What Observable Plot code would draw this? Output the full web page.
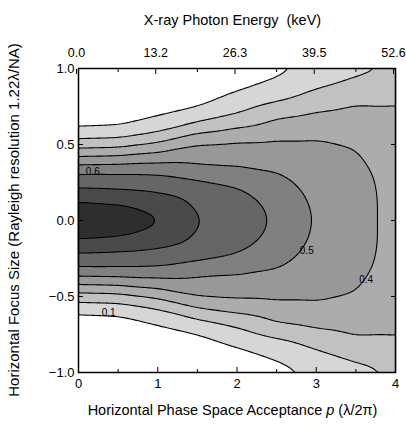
<!DOCTYPE html>
<html>
<head>
<meta charset="utf-8">
<script src="https://cdn.jsdelivr.net/npm/d3@7"></script>
<script src="https://cdn.jsdelivr.net/npm/@observablehq/plot@0.6"></script>
<style>
  html, body { margin: 0; padding: 0; background: white; }
</style>
</head>
<body>
<div id="chart"></div>
<script>
// Acceptance p (λ/2π) sample columns
const xs = [0, 0.5, 1, 1.5, 2, 2.5, 3, 3.5, 4];
// Focus size sample rows (top to bottom)
const ys = [1.0, 0.9, 0.8, 0.7, 0.6, 0.5, 0.4, 0.3, 0.2, 0.1, 0.0,
            -0.1, -0.2, -0.3, -0.4, -0.5, -0.6, -0.7, -0.8, -0.9, -1.0];
// Relative intensity, one row per ys entry, one column per xs entry
const grid = [
  [0.00, 0.00, 0.00, 0.01, 0.03, 0.07, 0.12, 0.17, 0.21],
  [0.00, 0.00, 0.01, 0.02, 0.07, 0.12, 0.18, 0.225, 0.25],
  [0.01, 0.01, 0.03, 0.06, 0.13, 0.18, 0.24, 0.28, 0.29],
  [0.03, 0.04, 0.09, 0.14, 0.20, 0.28, 0.31, 0.33, 0.315],
  [0.11, 0.12, 0.17, 0.26, 0.31, 0.35, 0.37, 0.37, 0.335],
  [0.25, 0.26, 0.32, 0.41, 0.42, 0.42, 0.415, 0.395, 0.35],
  [0.44, 0.45, 0.47, 0.47, 0.47, 0.46, 0.44, 0.41, 0.36],
  [0.62, 0.62, 0.61, 0.57, 0.54, 0.51, 0.46, 0.425, 0.368],
  [0.71, 0.70, 0.685, 0.655, 0.615, 0.545, 0.475, 0.43, 0.372],
  [0.83, 0.815, 0.77, 0.69, 0.65, 0.575, 0.485, 0.43, 0.375],
  [0.89, 0.86, 0.815, 0.705, 0.66, 0.585, 0.49, 0.43, 0.375],
  [0.83, 0.815, 0.77, 0.69, 0.65, 0.575, 0.485, 0.43, 0.375],
  [0.71, 0.70, 0.685, 0.655, 0.615, 0.545, 0.475, 0.43, 0.372],
  [0.62, 0.62, 0.61, 0.57, 0.54, 0.51, 0.46, 0.425, 0.368],
  [0.44, 0.45, 0.47, 0.47, 0.47, 0.46, 0.44, 0.41, 0.36],
  [0.25, 0.26, 0.32, 0.41, 0.42, 0.42, 0.415, 0.395, 0.35],
  [0.11, 0.12, 0.17, 0.26, 0.31, 0.35, 0.37, 0.37, 0.335],
  [0.03, 0.04, 0.09, 0.14, 0.20, 0.28, 0.31, 0.33, 0.315],
  [0.01, 0.01, 0.03, 0.06, 0.12, 0.17, 0.23, 0.28, 0.29],
  [0.00, 0.00, 0.01, 0.02, 0.06, 0.11, 0.17, 0.22, 0.25],
  [0.00, 0.00, 0.00, 0.01, 0.02, 0.06, 0.11, 0.16, 0.21]
];
// Contour levels and their fill grays
const levels = [0.1, 0.2, 0.3, 0.4, 0.5, 0.6, 0.7, 0.8];
const grays = ["#d6d6d6", "#c1c1c1", "#acacac", "#989898", "#808080", "#666666", "#4a4a4a", "#2e2e2e"];
// Contour labels
const labelText = ["0.6", "0.5", "0.4", "0.1"];
const labelX = [0.18, 2.88, 3.63, 0.38];
const labelY = [0.32, -0.2, -0.39, -0.61];
// Axis ticks
const xTicks = [0, 1, 2, 3, 4];
const xMinor = [0.5, 1.5, 2.5, 3.5];
const energyLabels = ["0.0", "13.2", "26.3", "39.5", "52.6"];
const yTicks = [-1.0, -0.5, 0.0, 0.5, 1.0];

const points = [];
ys.forEach((y, i) => xs.forEach((x, j) => points.push({x, y, v: grid[i][j]})));
const labels = labelText.map((t, i) => ({t, x: labelX[i], y: labelY[i]}));

const chart = Plot.plot({
  width: 406,
  height: 426,
  marginTop: 68,
  marginBottom: 54,
  marginLeft: 78,
  marginRight: 11,
  style: {fontFamily: "'Liberation Sans', Arial, sans-serif", fontSize: "13px", background: "white", color: "black"},
  x: {domain: [0, 4]},
  y: {domain: [-1, 1]},
  color: {type: "ordinal", domain: levels, range: grays},
  marks: [
    Plot.contour(points, {x: "x", y: "y", fill: "v", thresholds: levels, interpolate: "barycentric", blur: 3, stroke: "black", strokeWidth: 1.1}),
    Plot.text(labels, {x: "x", y: "y", text: "t", fontSize: 10, fill: "black"}),
    Plot.frame({stroke: "black", strokeWidth: 1.5}),
    Plot.axisX({anchor: "bottom", ticks: xTicks, tickFormat: d3.format("d"), tickSize: -5, tickPadding: 11, label: null}),
    Plot.axisX({anchor: "bottom", ticks: xMinor, tickFormat: () => "", tickSize: -3, label: null}),
    Plot.axisX({anchor: "top", ticks: xTicks, tickFormat: (d, i) => energyLabels[i], tickSize: -5, tickPadding: 17, fontSize: 12.5, dx: -2, label: null}),
    Plot.axisX({anchor: "top", ticks: xMinor, tickFormat: () => "", tickSize: -3, label: null}),
    Plot.axisY({anchor: "left", ticks: yTicks, tickFormat: d3.format(".1f"), tickSize: -5, tickPadding: 9, label: null}),
    Plot.axisY({anchor: "right", ticks: yTicks, tickFormat: () => "", tickSize: -5, label: null})
  ]
});

document.getElementById("chart").appendChild(chart);

const font = "'Liberation Sans', Arial, sans-serif";
const svg = d3.select(chart);
// Top axis title
svg.append("text")
  .attr("x", 78 + (406 - 78 - 11) / 2 - 4)
  .attr("y", 25)
  .attr("text-anchor", "middle")
  .attr("font-family", font)
  .attr("font-size", 14.5)
  .attr("fill", "black")
  .text("X-ray Photon Energy  (keV)");
// Left axis title
svg.append("text")
  .attr("transform", `translate(19,${68 + (426 - 68 - 54) / 2}) rotate(-90)`)
  .attr("text-anchor", "middle")
  .attr("font-family", font)
  .attr("font-size", 15)
  .attr("fill", "black")
  .text("Horizontal Focus Size (Rayleigh resolution 1.22λ/NA)");
// Bottom axis title with italic p
const t = svg.append("text")
  .attr("x", 78 + (406 - 78 - 11) / 2 - 4)
  .attr("y", 415)
  .attr("text-anchor", "middle")
  .attr("font-family", font)
  .attr("font-size", 14.5)
  .attr("fill", "black");
t.append("tspan").text("Horizontal Phase Space Acceptance ");
t.append("tspan").attr("font-style", "italic").text("p");
t.append("tspan").text(" (λ/2π)");
</script>
</body>
</html>
